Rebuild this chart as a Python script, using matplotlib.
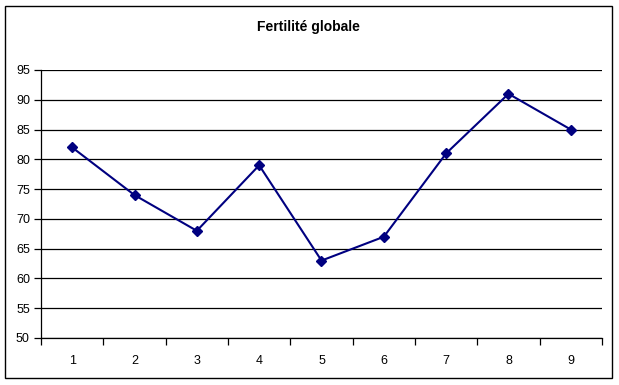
import matplotlib
matplotlib.use("Agg")
import matplotlib.pyplot as plt
from matplotlib.patches import Rectangle

categories = [1, 2, 3, 4, 5, 6, 7, 8, 9]
values = [82, 74, 68, 79, 63, 67, 81, 91, 85]
y_ticks = [50, 55, 60, 65, 70, 75, 80, 85, 90, 95]

plt.rcParams['font.family'] = ['Liberation Sans', 'DejaVu Sans']

fig = plt.figure(figsize=(6.19, 3.85), dpi=100)
# outer chart border
fig.patches.append(Rectangle((5 / 619, 1 - 378 / 385), 607 / 619, 372 / 385,
                             transform=fig.transFigure, fill=False,
                             edgecolor='black', linewidth=1))
ax = fig.add_axes([41 / 619, 1 - 338 / 385, 561 / 619, 268 / 385])

ax.plot(categories, values, color='#000080', marker='D', markersize=5.5,
        linewidth=1.5, clip_on=False, zorder=3)

ax.set_xlim(0.5, 9.5)
ax.set_ylim(50, 95)
ax.set_yticks(y_ticks)
ax.yaxis.grid(True, color='black', linewidth=0.9)
ax.set_axisbelow(True)

# category ticks between bins, labels at centres
ax.set_xticks([c + 0.5 for c in [0] + categories])
ax.set_xticklabels([])
ax.set_xticks(categories, minor=True)
ax.set_xticklabels([str(c) for c in categories], minor=True)
ax.tick_params(axis='x', which='minor', length=0, pad=12, labelsize=9)
ax.tick_params(axis='x', which='major', length=5, direction='out', width=0.9)
ax.tick_params(axis='y', length=5, direction='out', labelsize=9, pad=3, width=0.9)

ax.spines['top'].set_visible(False)
ax.spines['right'].set_visible(False)
ax.spines['left'].set_linewidth(0.9)
ax.spines['bottom'].set_linewidth(0.9)

fig.text(308 / 619, 1 - 27 / 385, "Fertilité globale", ha='center', va='center',
         fontsize=10, fontweight='bold')

fig.savefig("out.png", dpi=100)
